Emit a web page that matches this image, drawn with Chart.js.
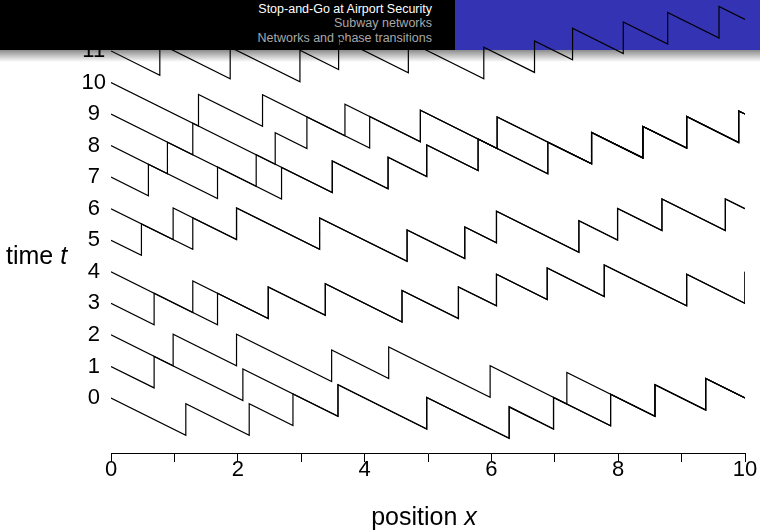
<!DOCTYPE html>
<html>
<head>
<meta charset="utf-8">
<script src="https://cdn.jsdelivr.net/npm/chart.js@4"></script>
<style>
  html, body { margin: 0; padding: 0; background: #fff; }
  #wrap { position: relative; width: 760px; height: 531px; overflow: hidden; }
  #barL { position: absolute; left: 0; top: 0; width: 455px; height: 50px; background: #000; }
  #barR { position: absolute; left: 455px; top: 0; width: 305px; height: 50px; background: #3333b3; }
  #shade { position: absolute; left: 0; top: 50px; width: 760px; height: 12px;
           background: linear-gradient(#8c8c8c, #ffffff); }
  .ht { position: absolute; right: 328px; font-family: "Liberation Sans", sans-serif;
        font-size: 12.5px; line-height: 14px; white-space: nowrap; }
  #t1 { top: 2px; color: #fff; }
  #t2 { top: 16px; color: #a8a8a8; }
  #t3 { top: 31px; color: #a8a8a8; }
  #c { position: absolute; left: 0; top: 0; }
</style>
</head>
<body>
<div id="wrap">
  <div id="barL"></div>
  <div id="barR"></div>
  <div id="shade"></div>
  <div class="ht" id="t1">Stop-and-Go at Airport Security</div>
  <div class="ht" id="t2">Subway networks</div>
  <div class="ht" id="t3">Networks and phase transitions</div>
  <canvas id="c" width="760" height="531"></canvas>
</div>
<script>
// Axis ticks
const xTickValues = [0, 1, 2, 3, 4, 5, 6, 7, 8, 9, 10];
const xTickLabels = [0, 2, 4, 6, 8, 10];
const yTickLabels = [0, 1, 2, 3, 4, 5, 6, 7, 8, 9, 10, 11];

// Each trajectory starts at time t = start at x = 0, runs along x + t = const,
// and at every stop position listed below moves up to the next diagonal.
const startTimes = [0, 1, 2, 3, 4, 5, 6, 7, 8, 9, 10, 11];
const stops0  = [1.18, 2.18, 2.87, 3.58, 4.98, 6.28, 6.98, 7.88, 8.58, 9.38];
const stops1  = [0.68, 2.08, 3.58, 4.98, 6.28, 6.98, 7.88, 8.58, 9.38];
const stops2  = [0.98, 1.98, 3.48, 4.38, 5.98, 7.19, 8.58, 9.38];
const stops3  = [0.68, 1.68, 2.48, 3.38, 4.59, 5.48, 6.08, 6.88, 7.78, 9.08, 10];
const stops4  = [1.29, 2.48, 3.38, 4.59, 5.48, 6.08, 6.88, 7.78, 9.08, 10];
const stops5  = [0.48, 1.29, 1.98, 3.29, 4.67, 5.58, 6.08, 7.38, 7.99, 8.69, 9.69];
const stops6  = [0.98, 1.98, 3.29, 4.67, 5.58, 6.08, 7.38, 7.99, 8.69, 9.69];
const stops7  = [0.59, 1.68, 2.69, 3.49, 4.37, 4.98, 5.79, 6.89, 7.58, 8.39, 9.08, 9.90];
const stops8  = [0.89, 2.29, 3.49, 4.37, 4.98, 5.79, 6.89, 7.58, 8.39, 9.08, 9.90];
const stops9  = [1.29, 2.59, 3.09, 4.08, 4.88, 6.09, 7.58, 8.39, 9.08, 9.90];
const stops10 = [1.38, 2.39, 3.69, 4.88, 6.09, 7.58, 8.39, 9.08, 9.90];
const stops11 = [0.77, 1.88, 2.98, 3.59, 4.69, 5.88, 6.68, 7.28, 8.08, 8.78, 9.59];

const allStops = [stops0, stops1, stops2, stops3, stops4, stops5,
                  stops6, stops7, stops8, stops9, stops10, stops11];

const X_END = 10;

function trajectory(start, stops) {
  const pts = [{ x: 0, y: start }];
  let level = start;
  for (const s of stops) {
    pts.push({ x: s, y: level - s });
    level += 1;
    pts.push({ x: s, y: level - s });
  }
  if (stops[stops.length - 1] < X_END) pts.push({ x: X_END, y: level - X_END });
  return pts;
}

const datasets = startTimes.map((t0, i) => ({
  data: trajectory(t0, allStops[i]),
  showLine: true,
  borderColor: '#000',
  borderWidth: 1.2,
  pointRadius: 0,
  tension: 0,
  fill: false
}));

const FONT = '"Liberation Sans", Arial, sans-serif';
const TITLE_SIZE = 25;

const axisTitles = {
  id: 'axisTitles',
  afterDraw(chart) {
    const ctx = chart.ctx;
    const up = TITLE_SIZE + 'px ' + FONT;
    const it = 'italic ' + TITLE_SIZE + 'px ' + FONT;
    ctx.save();
    ctx.fillStyle = '#000';
    ctx.textBaseline = 'middle';
    ctx.textAlign = 'left';
    // y title, horizontal, left of the tick labels
    ctx.font = up;
    ctx.fillText('time ', 6, 257);
    const w1 = ctx.measureText('time ').width;
    ctx.font = it;
    ctx.fillText('t', 6 + w1, 257);
    // x title, centred under the axis
    ctx.font = up;
    const a = ctx.measureText('position ').width;
    ctx.font = it;
    const b = ctx.measureText('x').width;
    const x0 = 424 - (a + b) / 2;
    ctx.font = up;
    ctx.fillText('position ', x0, 518);
    ctx.font = it;
    ctx.fillText('x', x0 + a, 518);
    ctx.restore();
  }
};

new Chart(document.getElementById('c'), {
  type: 'scatter',
  data: { datasets },
  options: {
    responsive: false,
    animation: false,
    devicePixelRatio: 1,
    layout: { padding: { left: 0, right: 15, top: 0, bottom: 0 } },
    plugins: { legend: { display: false }, tooltip: { enabled: false } },
    scales: {
      x: {
        type: 'linear',
        min: 0,
        max: 10,
        afterBuildTicks: s => { s.ticks = xTickValues.map(v => ({ value: v })); },
        afterFit: s => { s.height = 78; s.paddingLeft = 0; s.paddingRight = 0; },
        ticks: {
          autoSkip: false,
          maxRotation: 0,
          padding: -5,
          color: '#000',
          font: { family: FONT, size: 22 },
          callback: v => (xTickLabels.includes(v) ? String(v) : '')
        },
        grid: { display: true, drawOnChartArea: false, drawTicks: true, tickLength: 9, color: '#000', lineWidth: 1 },
        border: { display: true, color: '#000', width: 1 }
      },
      y: {
        type: 'linear',
        min: -1.743,
        max: 12.615,
        afterBuildTicks: s => { s.ticks = yTickLabels.map(v => ({ value: v })); },
        afterFit: s => { s.width = 111; s.paddingTop = 0; s.paddingBottom = 0; },
        ticks: {
          autoSkip: false,
          crossAlign: 'center',
          padding: 5,
          color: '#000',
          font: { family: FONT, size: 22 }
        },
        grid: { display: false, drawTicks: false },
        border: { display: false }
      }
    }
  },
  plugins: [axisTitles]
});
</script>
</body>
</html>
